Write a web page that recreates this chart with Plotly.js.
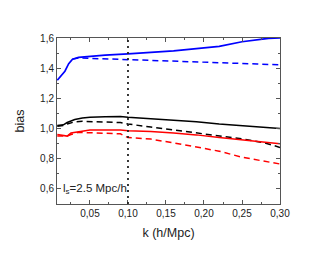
<!DOCTYPE html>
<html><head><meta charset="utf-8">
<script src="https://cdn.plot.ly/plotly-3.0.1.min.js"></script>
<style>html,body{margin:0;padding:0;background:#fff}#c{width:316px;height:253px}</style>
</head><body><div id="c"></div>
<script>
const kBlue = [0.007,0.012,0.017,0.022,0.027,0.035,0.05,0.07,0.10,0.13,0.16,0.19,0.22,0.25,0.27,0.285,0.30];
const blueSolid = [1.32,1.35,1.38,1.43,1.46,1.472,1.48,1.487,1.495,1.505,1.515,1.53,1.545,1.575,1.59,1.598,1.60];
const kBlueD = [0.027,0.035,0.05,0.07,0.10,0.13,0.16,0.19,0.22,0.25,0.27,0.30];
const blueDashed = [1.46,1.468,1.465,1.462,1.458,1.453,1.448,1.443,1.435,1.432,1.428,1.422];
const kBlack = [0.007,0.015,0.02,0.03,0.04,0.05,0.07,0.09,0.10,0.13,0.16,0.19,0.22,0.25,0.28,0.30];
const blackSolid = [1.02,1.025,1.04,1.06,1.07,1.075,1.078,1.08,1.075,1.065,1.055,1.045,1.03,1.018,1.008,1.00];
const blackDashed = [1.015,1.02,1.03,1.045,1.048,1.045,1.043,1.04,1.03,1.01,0.99,0.97,0.95,0.932,0.905,0.875];
const kRed = [0.007,0.015,0.02,0.025,0.035,0.05,0.07,0.09,0.10,0.13,0.16,0.19,0.22,0.25,0.28,0.30];
const redSolid = [0.96,0.955,0.95,0.97,0.98,0.99,0.99,0.99,0.985,0.98,0.97,0.958,0.94,0.925,0.912,0.90];
const redDashed = [0.95,0.95,0.95,0.96,0.975,0.972,0.97,0.965,0.94,0.93,0.905,0.88,0.85,0.81,0.785,0.765];
const xTicks = [0.05,0.10,0.15,0.20,0.25,0.30];
const yTicks = [0.6,0.8,1.0,1.2,1.4,1.6];
const vLineK = 0.10;
const label = 'l<sub>s</sub>=2.5 Mpc/h';

const dash = '6px,4px';
const traces = [
  {x:kBlue, y:blueSolid, mode:'lines', line:{color:'#0000ff', width:1.7}},
  {x:kBlueD, y:blueDashed, mode:'lines', line:{color:'#0000ff', width:1.5, dash:dash}},
  {x:kBlack, y:blackSolid, mode:'lines', line:{color:'#000', width:1.5}},
  {x:kBlack, y:blackDashed, mode:'lines', line:{color:'#000', width:1.5, dash:dash}},
  {x:kRed, y:redSolid, mode:'lines', line:{color:'#ff0000', width:1.5}},
  {x:kRed, y:redDashed, mode:'lines', line:{color:'#ff0000', width:1.5, dash:dash}}
];
const axCommon = {showgrid:false, zeroline:false, showline:true, linecolor:'#555', linewidth:1, mirror:'ticks',
  ticks:'inside', ticklen:4, tickcolor:'#555', tickfont:{family:'Liberation Sans, Arial', size:10, color:'#222'}};
const layout = {
  width:316, height:253, margin:{l:57, r:36, t:38, b:49},
  paper_bgcolor:'#fff', plot_bgcolor:'#fff', showlegend:false, separators:',.',
  xaxis:Object.assign({}, axCommon, {range:[0.0066,0.30], tickvals:xTicks, tickformat:'.2f',
    minor:{dtick:0.025, tick0:0, ticks:'inside', ticklen:2, tickcolor:'#555'},
    title:{text:'k (h/Mpc)', font:{family:'Liberation Sans, Arial', size:12.5, color:'#222'}, standoff:10}}),
  yaxis:Object.assign({}, axCommon, {range:[0.5,1.6], tickvals:yTicks, tickformat:'.1f',
    minor:{dtick:0.1, tick0:0, ticks:'inside', ticklen:2, tickcolor:'#555'},
    title:{text:'bias', font:{family:'Liberation Sans, Arial', size:12.5, color:'#222'}, standoff:12}}),
  shapes:[{type:'line', xref:'x', yref:'paper', x0:vLineK, x1:vLineK, y0:0, y1:1, line:{color:'#222', width:1.8, dash:'2px,4px'}}],
  annotations:[{text:label, xref:'paper', yref:'y', x:0.02, y:0.6, xanchor:'left', yanchor:'middle', showarrow:false,
    font:{family:'Liberation Sans, Arial', size:11.5, color:'#222'}}]
};
Plotly.newPlot('c', traces, layout, {staticPlot:true, displayModeBar:false});
</script></body></html>
